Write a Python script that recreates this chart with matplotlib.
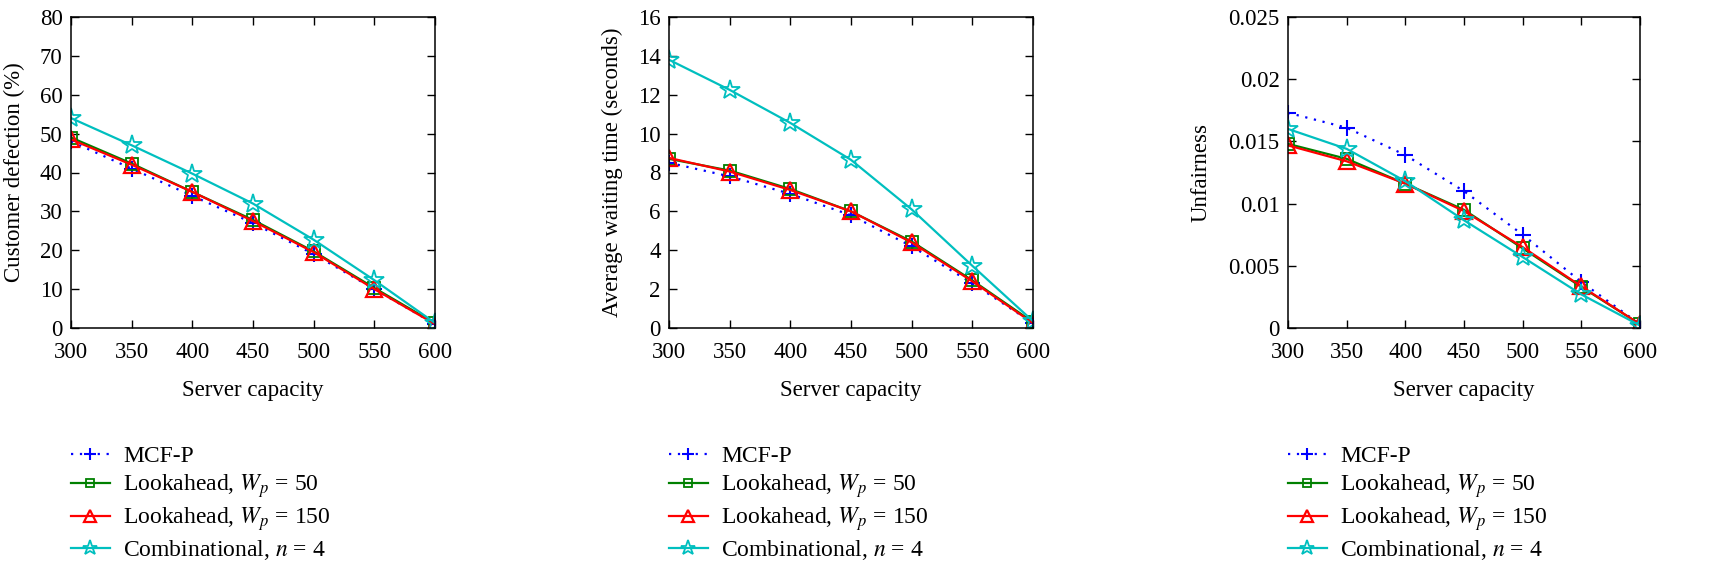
import matplotlib
matplotlib.use("Agg")
import matplotlib.pyplot as plt

plt.rcParams['font.family'] = ['Liberation Serif', 'DejaVu Serif']
plt.rcParams['mathtext.fontset'] = 'stix'

capacity = [300, 350, 400, 450, 500, 550, 600]

series_labels = ['MCF-P', 'Lookahead, $W_p$ = 50', 'Lookahead, $W_p$ = 150',
                 'Combinational, $n$ = 4']

# Panel 1: customer defection (%)
defect_mcfp = [48.0, 41.0, 34.0, 27.0, 19.0, 10.0, 1.0]
defect_la50 = [49.0, 42.3, 35.0, 27.8, 19.7, 10.3, 1.2]
defect_la150 = [48.5, 42.0, 35.0, 27.5, 19.5, 10.0, 1.0]
defect_comb = [54.0, 47.0, 39.7, 32.0, 22.7, 12.3, 1.3]

# Panel 2: average waiting time (s)
wait_mcfp = [8.5, 7.8, 6.9, 5.8, 4.2, 2.3, 0.25]
wait_la50 = [8.7, 8.1, 7.15, 6.0, 4.45, 2.45, 0.3]
wait_la150 = [8.75, 8.05, 7.1, 6.0, 4.4, 2.4, 0.25]
wait_comb = [13.8, 12.25, 10.55, 8.65, 6.1, 3.2, 0.35]

# Panel 3: unfairness
unf_mcfp = [0.0173, 0.0161, 0.0139, 0.0110, 0.0075, 0.0037, 0.0003]
unf_la50 = [0.0148, 0.0136, 0.0116, 0.0095, 0.0064, 0.0033, 0.0003]
unf_la150 = [0.01468, 0.0134, 0.0116, 0.0094, 0.0065, 0.00335, 0.0003]
unf_comb = [0.0160, 0.0144, 0.0118, 0.00866, 0.0057, 0.0027, 0.0002]

panels = [
    ([defect_mcfp, defect_la50, defect_la150, defect_comb], 'Customer defection (%)',
     (0, 80), [0, 10, 20, 30, 40, 50, 60, 70, 80], ['0', '10', '20', '30', '40', '50', '60', '70', '80']),
    ([wait_mcfp, wait_la50, wait_la150, wait_comb], 'Average waiting time (seconds)',
     (0, 16), [0, 2, 4, 6, 8, 10, 12, 14, 16], ['0', '2', '4', '6', '8', '10', '12', '14', '16']),
    ([unf_mcfp, unf_la50, unf_la150, unf_comb], 'Unfairness',
     (0, 0.025), [0, 0.005, 0.01, 0.015, 0.02, 0.025], ['0', '0.005', '0.01', '0.015', '0.02', '0.025']),
]

styles = [
    dict(color='#0000ff', linestyle=(0, (1, 3)), marker='+', markersize=11, mew=1.5, lw=1.6),
    dict(color='#008000', linestyle='-', marker='s', markersize=8, mfc='none', mew=1.3, lw=1.6),
    dict(color='#ff0000', linestyle='-', marker='^', markersize=11, mfc='none', mew=1.6, lw=1.6),
    dict(color='#00bfbf', linestyle='-', marker='*', markersize=15, mfc='none', mew=1.3, lw=1.6),
]

W, H = 1712, 565
fig = plt.figure(figsize=(W / 100, H / 100), dpi=100)

ax_px = [(71, 435), (669, 1033), (1288, 1640)]
top_px, bot_px = 17, 328
ylabel_right = [25, 623, 1212]

for i, (data, ylabel, ylim, yticks, yticklabels) in enumerate(panels):
    l, r = ax_px[i]
    ax = fig.add_axes([l / W, (H - bot_px) / H, (r - l) / W, (bot_px - top_px) / H])
    for ys, st, lab in zip(data, styles, series_labels):
        ax.plot(capacity, ys, label=lab, **st)
    ax.set_xlim(300, 600)
    ax.set_ylim(*ylim)
    ax.set_xticks(capacity)
    ax.set_xticklabels([str(c) for c in capacity])
    ax.set_yticks(yticks)
    ax.set_yticklabels(yticklabels)
    ax.tick_params(direction='in', length=6, width=1, top=True, right=True,
                   labelsize=16.5)
    ax.tick_params(axis='x', pad=10)
    ax.tick_params(axis='y', pad=6)
    for s in ax.spines.values():
        s.set_linewidth(1.1)
    ax.set_xlabel('Server capacity', fontsize=16.5, labelpad=12)
    ax.set_ylabel(ylabel, fontsize=16.5)
    ax.yaxis.set_label_coords((ylabel_right[i] - l) / (r - l), 0.5)
    ax.legend(loc='upper left', bbox_to_anchor=(0, -0.378), borderaxespad=0,
              borderpad=0, frameon=False, fontsize=17, handlelength=1.65,
              handletextpad=0.55, labelspacing=0.22, markerscale=0.75)

fig.savefig('out.png', dpi=100)
